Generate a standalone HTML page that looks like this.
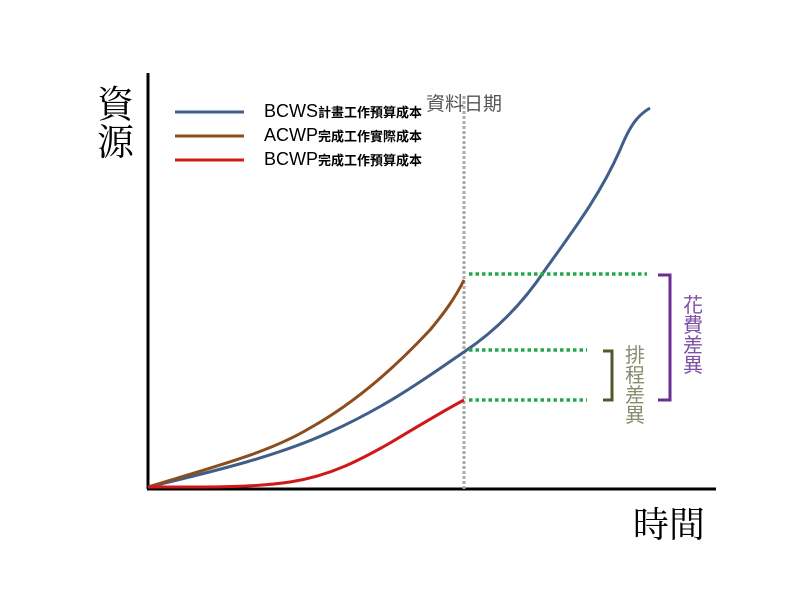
<!DOCTYPE html>
<html><head><meta charset="utf-8"><style>
html,body{margin:0;padding:0;background:#fff;}
svg{display:block;}
text{font-family:"Liberation Sans","Noto Sans CJK TC",sans-serif;}
.cjk{font-family:"Noto Serif CJK SC","Noto Sans CJK TC",serif;}
.cjks{font-family:"Noto Sans CJK TC",sans-serif;}
</style></head><body>
<svg width="800" height="600" viewBox="0 0 800 600" xmlns="http://www.w3.org/2000/svg">
<rect width="800" height="600" fill="#fff"/>
<line x1="148" y1="73" x2="148" y2="489" stroke="#000" stroke-width="3"/>
<line x1="147" y1="489" x2="716" y2="489" stroke="#000" stroke-width="3"/>
<line x1="464" y1="96" x2="464" y2="490" stroke="#aaa" stroke-width="3" stroke-dasharray="3,2"/>
<path d="M148,487 C220,470 280,455 330,432 C390,405 430,375 464,352 C500,328 525,300 545,270 C575,228 600,195 620,150 C630,125 638,115 650,108" fill="none" stroke="#3f5f8a" stroke-width="3"/>
<path d="M148,487 C220,465 270,452 310,428 C360,400 400,362 430,330 C445,312 455,298 464,280" fill="none" stroke="#8b4d1e" stroke-width="3"/>
<path d="M148,487 C200,487 250,488 290,482 C330,476 360,460 390,443 C420,425 445,410 464,400" fill="none" stroke="#d01818" stroke-width="3"/>
<g stroke="#22a84a" stroke-width="3.5" stroke-dasharray="3.5,3">
<line x1="469" y1="274" x2="647" y2="274"/>
<line x1="469" y1="350" x2="587" y2="350"/>
<line x1="469" y1="400" x2="587" y2="400"/>
</g>
<path d="M658,275 H670 V400 H658" fill="none" stroke="#6a2f91" stroke-width="3"/>
<path d="M603,351 H612 V400 H603" fill="none" stroke="#4f5a2c" stroke-width="3"/>
<line x1="175" y1="112" x2="244" y2="112" stroke="#3f5f8a" stroke-width="3"/>
<line x1="175" y1="136" x2="244" y2="136" stroke="#8b4d1e" stroke-width="3"/>
<line x1="175" y1="160" x2="244" y2="160" stroke="#d01818" stroke-width="3"/>
<text x="264" y="117" font-size="18" fill="#000">BCWS<tspan font-size="13" font-weight="bold">計畫工作預算成本</tspan></text>
<text x="264" y="141" font-size="18" fill="#000">ACWP<tspan font-size="13" font-weight="bold">完成工作實際成本</tspan></text>
<text x="264" y="165" font-size="18" fill="#000">BCWP<tspan font-size="13" font-weight="bold">完成工作預算成本</tspan></text>
<text x="426" y="110" font-size="19" fill="#555" class="cjks">資料日期</text>
<text x="97" y="117" font-size="37" fill="#000" class="cjk">資</text>
<text x="97" y="155" font-size="37" fill="#000" class="cjk">源</text>
<text x="633" y="537" font-size="36" fill="#000" class="cjk">時間</text>
<g font-size="20" fill="#7d4fa5" class="cjk">
<text x="683" y="312">花</text><text x="683" y="332">費</text><text x="683" y="352">差</text><text x="683" y="372">異</text>
</g>
<g font-size="20" fill="#8a8a6e" class="cjk">
<text x="625" y="362">排</text><text x="625" y="382">程</text><text x="625" y="402">差</text><text x="625" y="422">異</text>
</g>
</svg>
</body></html>
